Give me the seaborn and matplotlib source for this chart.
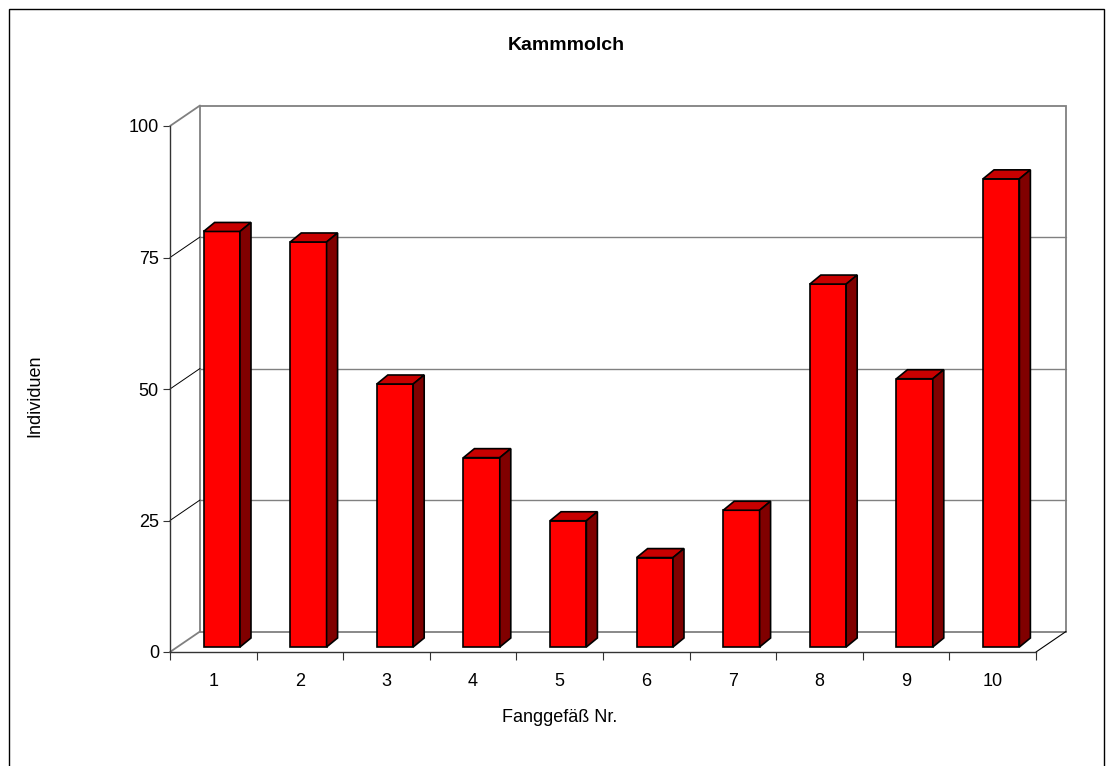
import matplotlib
matplotlib.use("Agg")
import matplotlib.pyplot as plt
import seaborn as sns
import pandas as pd
from matplotlib.patches import Polygon, Rectangle
from matplotlib.lines import Line2D

# Catch counts per pitfall trap
categories = ["1", "2", "3", "4", "5", "6", "7", "8", "9", "10"]
values = [79, 77, 50, 36, 24, 17, 26, 69, 51, 89]
y_ticks = [0, 25, 50, 75, 100]

title = "Kammmolch"
x_label = "Fanggefäß Nr."
y_label = "Individuen"

sns.set_style("white")
plt.rcParams["font.family"] = ["Liberation Sans", "DejaVu Sans"]
plt.rcParams["text.color"] = "black"
plt.rcParams["xtick.color"] = "black"
plt.rcParams["ytick.color"] = "black"

W, H, DPI = 1113, 766, 100
fig = plt.figure(figsize=(W / DPI, H / DPI), dpi=DPI)
fig.patch.set_facecolor("white")

# front plane of the 3-D box (pixel geometry)
left_px, right_px, top_px, bottom_px = 170, 1036, 126, 652
ax = fig.add_axes([left_px / W, 1 - bottom_px / H,
                   (right_px - left_px) / W, (bottom_px - top_px) / H])
ax.set_facecolor("none")

n = len(categories)
px_per_x = (right_px - left_px) / n
px_per_y = (bottom_px - top_px) / 100.0


def px(dx, dy):
    """Convert a pixel offset into data units of the front plane."""
    return dx / px_per_x, dy / px_per_y


df = pd.DataFrame({"Fanggefäß": categories, "Individuen": values})
sns.barplot(data=df, x="Fanggefäß", y="Individuen", order=categories,
            color="#FF0000", saturation=1, width=0.42,
            edgecolor="black", linewidth=1.2, ax=ax, zorder=5)

ax.set_xlim(-0.5, n - 0.5)
ax.set_ylim(0, 100)

# walls: depth of the box
wx, wy = px(30, 20.5)
wall_col = "#808080"
x0, x1 = -0.5, n - 0.5
# back wall outline
ax.add_patch(Rectangle((x0 + wx, wy), (x1 - x0), 100, fill=False,
                       edgecolor=wall_col, linewidth=1.3, clip_on=False, zorder=1))
# gridlines on back wall and side wall
for v in y_ticks:
    if 0 < v < 100:
        ax.add_line(Line2D([x0 + wx, x1 + wx], [v + wy, v + wy], color=wall_col,
                           linewidth=1.0, clip_on=False, zorder=1))
    lc = wall_col if v in (0, 100) else "black"
    lw = 1.3 if v in (0, 100) else 0.7
    ax.add_line(Line2D([x0, x0 + wx], [v, v + wy], color=lc, linewidth=lw,
                       clip_on=False, zorder=1))
# floor right edge
ax.add_line(Line2D([x1, x1 + wx], [0, wy], color="black", linewidth=0.8,
                   clip_on=False, zorder=1))

# 3-D bar faces
bx, by = px(8.5, 5)
sx, sy = px(11, 9)
for p in ax.patches[:]:
    if not isinstance(p, Rectangle) or p.get_height() <= 0 or p.get_facecolor()[3] == 0:
        continue
    if p.get_width() > 1:
        continue
    p.set_x(p.get_x() + bx)
    p.set_y(p.get_y() + by)
    p.set_clip_on(False)
    xa, xb = p.get_x(), p.get_x() + p.get_width()
    ya, yb = p.get_y(), p.get_y() + p.get_height()
    top = Polygon([(xa, yb), (xb, yb), (xb + sx, yb + sy), (xa + sx, yb + sy)],
                  closed=True, facecolor="#C80000", edgecolor="black",
                  linewidth=1.2, clip_on=False, zorder=5)
    side = Polygon([(xb, ya), (xb + sx, ya + sy), (xb + sx, yb + sy), (xb, yb)],
                   closed=True, facecolor="#800000", edgecolor="black",
                   linewidth=1.2, clip_on=False, zorder=5)
    ax.add_patch(top)
    ax.add_patch(side)

# axes styling
for s in ("top", "right"):
    ax.spines[s].set_visible(False)
for s in ("left", "bottom"):
    ax.spines[s].set_color("#333333")
    ax.spines[s].set_linewidth(1.0)
    ax.spines[s].set_zorder(2)

ax.set_yticks(y_ticks)
ax.set_yticklabels([str(v) for v in y_ticks])
ax.tick_params(axis="y", direction="out", length=5, width=0.8, color="#333333",
               labelcolor="black", pad=3, labelsize=13, left=True)

ax.set_xticks(range(n))
ax.set_xticklabels(categories)
ax.set_xticks([i - 0.5 for i in range(n + 1)], minor=True)
ax.tick_params(axis="x", which="major", length=0, pad=15, labelsize=13,
               labelcolor="black")
ax.tick_params(axis="x", which="minor", direction="out", length=6, width=0.8,
               color="#333333", bottom=True)
ax.set_xlabel("")
ax.set_ylabel("")

fig.text(566 / W, 1 - 46 / H, title, ha="center", va="center",
         fontsize=14, fontweight="bold", color="black")
fig.text(560 / W, 1 - 718 / H, x_label, ha="center", va="center",
         fontsize=13, color="black")
fig.text(35 / W, 1 - 396 / H, y_label, ha="center", va="center",
         fontsize=13, rotation=90, color="black")

# chart area border
fig.add_artist(Rectangle((9 / W, -0.05), (1104 - 9) / W, 1.05 - 9 / H,
                         transform=fig.transFigure, fill=False,
                         edgecolor="black", linewidth=1.0))

fig.savefig("out.png", dpi=DPI, facecolor="white")
